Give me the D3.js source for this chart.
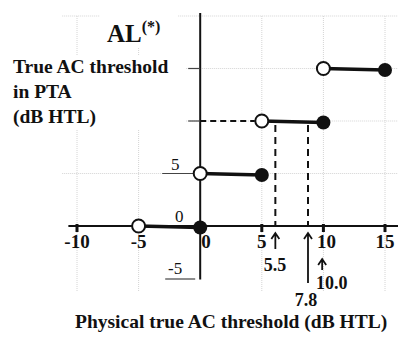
<!DOCTYPE html>
<html>
<head>
<meta charset="utf-8">
<script src="https://cdn.jsdelivr.net/npm/d3@7"></script>
<style>
  body { margin: 0; background: #fff; }
  svg { display: block; }
  text { font-family: "Liberation Serif", "DejaVu Serif", serif; fill: #111; }
</style>
</head>
<body>
<div id="chart"></div>
<script>
// step function: open circle at start, filled circle at end
const stepStart = [-5, 0, 5, 10];
const stepEnd = [0, 5, 10, 15];
const stepLevel = [0, 5, 10, 15];

const xTicks = [-10, -5, 0, 5, 10, 15];
const yTickMarks = [5, 10, 15];
const yLabels = ["5", "0", "-5"];
const yLabelValues = [5, 0, -5];
const gridX = [-10, -5, 5, 10, 15];
const gridY = [5, 10, 15, 20];

// arrows under the x axis (position, label as printed)
const arrowX = [6.1, 8.75, 9.9];
const arrowLabels = ["5.5", "7.8", "10.0"];
const dashedLevel = 10;

(function() {
  const width = 398, height = 338;

  const svg = d3.select("#chart").append("svg")
    .attr("width", width)
    .attr("height", height);

  const x = d3.scaleLinear().domain([-10, 15]).range([77, 385]);
  const y = d3.scaleLinear().domain([-5, 20]).range([278.5, 16]);

  // faint dotted grid
  svg.append("g").selectAll("line")
    .data(gridX).join("line")
    .attr("x1", d => x(d)).attr("x2", d => x(d))
    .attr("y1", y(20)).attr("y2", y(-6.2))
    .attr("stroke", "#d4d4d4").attr("stroke-width", 1)
    .attr("stroke-dasharray", "1,1");
  svg.append("g").selectAll("line")
    .data(gridY).join("line")
    .attr("x1", x(-11.2)).attr("x2", width)
    .attr("y1", d => y(d)).attr("y2", d => y(d))
    .attr("stroke", "#d4d4d4").attr("stroke-width", 1)
    .attr("stroke-dasharray", "1,1");

  // white boxes behind the y title
  svg.append("rect").attr("x", 100).attr("y", 8).attr("width", 78).attr("height", 40).attr("fill", "#fff");
  svg.append("rect").attr("x", 8).attr("y", 55).attr("width", 178).attr("height", 75).attr("fill", "#fff");

  // axes
  svg.append("line")
    .attr("x1", x(-10.7)).attr("x2", width)
    .attr("y1", y(0)).attr("y2", y(0))
    .attr("stroke", "#111").attr("stroke-width", 2);
  svg.append("line")
    .attr("x1", x(0)).attr("x2", x(0))
    .attr("y1", 13).attr("y2", y(-5.1))
    .attr("stroke", "#111").attr("stroke-width", 2);

  // x ticks and labels
  svg.append("g").selectAll("line")
    .data(xTicks.filter(d => d !== 0 && d !== -5)).join("line")
    .attr("x1", d => x(d)).attr("x2", d => x(d))
    .attr("y1", y(0) - 2).attr("y2", y(0) + 6)
    .attr("stroke", "#111").attr("stroke-width", 3);
  svg.append("g").selectAll("text")
    .data(xTicks).join("text")
    .attr("x", d => d === 0 ? x(d) + 1 : x(d) + (d === 10 ? 3 : 0))
    .attr("y", 248)
    .attr("text-anchor", d => d === 0 ? "start" : "middle")
    .attr("font-weight", "bold")
    .attr("font-size", 19)
    .text(d => d);

  // y ticks
  svg.append("g").selectAll("line")
    .data(yTickMarks).join("line")
    .attr("x1", d => d === 5 ? x(0) - 38 : x(0) - 12).attr("x2", x(0))
    .attr("y1", d => y(d)).attr("y2", d => y(d))
    .attr("stroke", "#444").attr("stroke-width", 1.2);
  svg.append("line")
    .attr("x1", x(0) - 35).attr("x2", x(0) - 5)
    .attr("y1", y(-5) + 0.5).attr("y2", y(-5) + 0.5)
    .attr("stroke", "#444").attr("stroke-width", 1.2);
  svg.append("g").selectAll("text")
    .data(yLabelValues).join("text")
    .attr("x", d => d === 0 ? x(0) - 21 : x(0) - 25)
    .attr("y", d => y(d) - (d === -5 ? 5 : 4))
    .attr("text-anchor", "middle")
    .attr("font-size", 17)
    .text((d, i) => yLabels[i]);

  // dashed guides
  svg.append("line")
    .attr("x1", x(0)).attr("x2", x(stepStart[2]) - 7)
    .attr("y1", y(dashedLevel)).attr("y2", y(dashedLevel))
    .attr("stroke", "#111").attr("stroke-width", 2)
    .attr("stroke-dasharray", "6,4");
  svg.append("g").selectAll("line")
    .data(arrowX.slice(0, 2)).join("line")
    .attr("x1", d => x(d)).attr("x2", d => x(d))
    .attr("y1", y(dashedLevel) + 4).attr("y2", y(0))
    .attr("stroke", "#111").attr("stroke-width", 2)
    .attr("stroke-dasharray", "7,5");

  // step segments
  const steps = stepStart.map((s, i) => ({ x0: s, x1: stepEnd[i], v: stepLevel[i] }));
  svg.append("g").selectAll("line")
    .data(steps).join("line")
    .attr("x1", d => x(d.x0)).attr("x2", d => x(d.x1))
    .attr("y1", d => y(d.v)).attr("y2", d => y(d.v) + 1.5)
    .attr("stroke", "#111").attr("stroke-width", 3.5);
  svg.append("g").selectAll("circle")
    .data(steps).join("circle")
    .attr("cx", d => x(d.x1)).attr("cy", d => y(d.v) + 1.5)
    .attr("r", 7).attr("fill", "#111");
  svg.append("g").selectAll("circle")
    .data(steps).join("circle")
    .attr("cx", d => x(d.x0)).attr("cy", d => y(d.v))
    .attr("r", 6.5).attr("fill", "#fff")
    .attr("stroke", "#111").attr("stroke-width", 2);

  // arrows
  const arrowTop = [233, 233, 259];
  const arrowBottom = [249, 283, 270];
  const labelPos = [[275, 271, "middle"], [306, 306, "middle"], [316, 289, "start"]];
  arrowX.forEach((a, i) => {
    const ax = x(a);
    svg.append("path")
      .attr("d", `M${ax},${arrowBottom[i]}V${arrowTop[i]}M${ax - 4},${arrowTop[i] + 6}L${ax},${arrowTop[i]}L${ax + 4},${arrowTop[i] + 6}`)
      .attr("fill", "none").attr("stroke", "#111").attr("stroke-width", 1.8);
    svg.append("text")
      .attr("x", labelPos[i][0]).attr("y", labelPos[i][1])
      .attr("text-anchor", labelPos[i][2])
      .attr("font-weight", "bold").attr("font-size", 18)
      .text(arrowLabels[i]);
  });

  // titles
  const al = svg.append("text").attr("x", 107).attr("y", 42)
    .attr("font-weight", "bold").attr("font-size", 25);
  al.append("tspan").text("AL");
  al.append("tspan").attr("dy", -10).attr("font-size", 16).text("(*)");

  svg.append("g").selectAll("text")
    .data(["True AC threshold", "in PTA", "(dB HTL)"]).join("text")
    .attr("x", 13).attr("y", (d, i) => 73 + i * 25)
    .attr("font-weight", "bold").attr("font-size", 19.5)
    .text(d => d);

  svg.append("text")
    .attr("x", 75).attr("y", 328)
    .attr("font-weight", "bold").attr("font-size", 19.5)
    .text("Physical true AC threshold (dB HTL)");
})();
</script>
</body>
</html>
